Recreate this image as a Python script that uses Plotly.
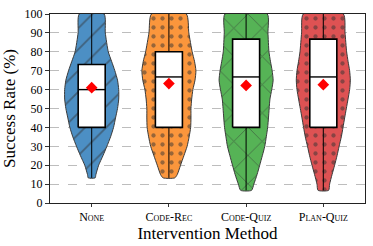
import plotly.graph_objects as go

# ---------------- data ----------------
methods = ["None", "Code-Rec", "Code-Quiz", "Plan-Quiz"]

# violin outlines: y levels (%) and relative density (half-width)
none_y = [13.3, 15, 20, 25, 30, 35, 40, 45, 50, 55, 60, 65, 70, 75, 80, 90, 100]
none_d = [3.5, 4.2, 7, 11.3, 15.3, 19, 22, 24, 26, 27.2, 27.2, 26, 23.3, 20, 16.7, 13.7, 12.5]

rec_y = [13.3, 15, 20, 25, 30, 35, 40, 45, 50, 55, 60, 65, 70, 75, 80, 90, 100]
rec_d = [5.8, 8.2, 11.5, 14.8, 18, 20, 21.5, 21.8, 21.8, 22.5, 23.7, 25.8, 26.7, 25.3, 23, 19.7, 17.2]

cq_y = [6.7, 10, 15, 20, 25, 30, 35, 40, 45, 50, 55, 60, 65, 70, 75, 80, 90, 100]
cq_d = [5.5, 7.8, 11, 13.7, 16.3, 18.8, 20.3, 21.7, 22.5, 23.2, 24, 25.8, 27.2, 26.2, 24.5, 23, 22, 21.3]

pq_y = [6.7, 10, 15, 20, 25, 30, 35, 40, 45, 50, 55, 60, 65, 70, 75, 80, 90, 100]
pq_d = [5.3, 6.3, 8.7, 11.3, 13.7, 15.8, 18, 19.7, 21.3, 23, 24.7, 26.3, 27, 26.3, 24.7, 23.3, 21.7, 20]

q1 = [40, 40, 40, 40]
median = [60, 66.7, 66.7, 66.7]
q3 = [73.3, 80, 86.7, 86.7]
mean = [61.0, 63.2, 62.2, 62.6]

y_ticks = [0, 10, 20, 30, 40, 50, 60, 70, 80, 90, 100]

# ---------------- styling ----------------
colors = ["#4c8fc4", "#fb963c", "#56b356", "#de5253"]
patterns = [
    dict(shape="/", size=15, solidity=0.12),
    dict(shape=".", size=9, solidity=0.18),
    dict(shape="x", size=20, solidity=0.09),
    dict(shape=".", size=9, solidity=0.18),
]
VMAX = 0.35   # max half width of violin (category units)
BOXH = 0.175  # half width of box
FONT = "Liberation Serif, Times New Roman, DejaVu Serif, serif"

outlines = [(none_y, none_d), (rec_y, rec_d), (cq_y, cq_d), (pq_y, pq_d)]

fig = go.Figure()
for i, (ys, ds) in enumerate(outlines):
    m = max(ds)
    hw = [d / m * VMAX for d in ds]
    xs = [i + w for w in hw] + [i - w for w in reversed(hw)] + [i + hw[0]]
    yy = list(ys) + list(reversed(ys)) + [ys[0]]
    fig.add_trace(go.Scatter(
        x=xs, y=yy, mode="lines", fill="toself",
        fillcolor=colors[i],
        fillpattern=dict(fgcolor="#333333", bgcolor=colors[i], **patterns[i]),
        line=dict(color="#3a3a3a", width=1, shape="spline", smoothing=0.6),
        hoverinfo="skip", showlegend=False))
    # centre line (min to max)
    fig.add_trace(go.Scatter(
        x=[i, i], y=[ys[0], ys[-1]], mode="lines",
        line=dict(color="black", width=1), showlegend=False, hoverinfo="skip"))
    # box
    fig.add_trace(go.Scatter(
        x=[i - BOXH, i + BOXH, i + BOXH, i - BOXH, i - BOXH],
        y=[q1[i], q1[i], q3[i], q3[i], q1[i]],
        mode="lines", fill="toself", fillcolor="white",
        line=dict(color="black", width=1.6), showlegend=False, hoverinfo="skip"))
    # median
    fig.add_trace(go.Scatter(
        x=[i - BOXH, i + BOXH], y=[median[i], median[i]], mode="lines",
        line=dict(color="black", width=1.4), showlegend=False, hoverinfo="skip"))

# means
fig.add_trace(go.Scatter(
    x=list(range(len(methods))), y=mean, mode="markers",
    marker=dict(symbol="diamond", size=9, color="red"),
    showlegend=False, hoverinfo="skip"))

fig.update_layout(
    width=373, height=246,
    margin=dict(l=50, r=7, t=10, b=43),
    plot_bgcolor="white", paper_bgcolor="white",
    font=dict(family=FONT, color="black", size=12),
)
fig.update_xaxes(
    range=[-0.54, 3.54], tickmode="array",
    tickvals=list(range(len(methods))), ticktext=methods,
    tickfont=dict(family=FONT, size=12, variant="small-caps"),
    ticks="outside", ticklen=3, tickcolor="#333",
    showline=True, mirror=True, linecolor="#222", linewidth=1,
    showgrid=False, zeroline=False,
    title=dict(text="Intervention Method", font=dict(family=FONT, size=17), standoff=2),
)
fig.update_yaxes(
    range=[0, 100], tickmode="array", tickvals=y_ticks,
    tickfont=dict(family=FONT, size=12),
    ticks="outside", ticklen=4, tickcolor="#333",
    showline=True, mirror=True, linecolor="#222", linewidth=1,
    showgrid=True, gridcolor="#bdbdbd", griddash="dash", gridwidth=0.8,
    zeroline=False,
    title=dict(text="Success Rate (%)", font=dict(family=FONT, size=17), standoff=5),
)

fig.write_html(
    "out.html",
    config={"displayModeBar": False},
    post_script="document.body.style.margin='0';document.body.style.padding='0';",
)
